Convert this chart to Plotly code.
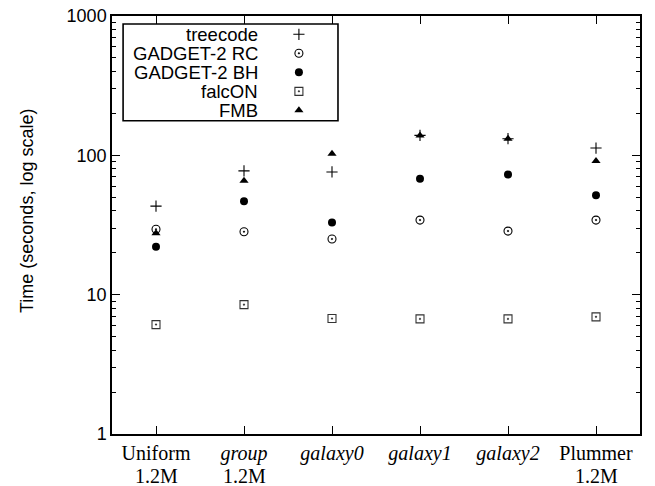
import plotly.graph_objects as go

categories = ["Uniform", "<i>group</i>", "<i>galaxy0</i>", "<i>galaxy1</i>", "<i>galaxy2</i>", "Plummer"]
sublabels = ["1.2M", "1.2M", "", "", "", "1.2M"]
treecode = [43.2, 77.3, 76.0, 139.0, 131.6, 112.8]
gadget_rc = [29.5, 28.3, 25.1, 34.3, 28.6, 34.3]
gadget_bh = [22.1, 46.9, 32.9, 67.8, 72.8, 51.8]
falcon = [6.1, 8.48, 6.74, 6.7, 6.7, 6.93]
fmb = [27.6, 65.6, 102.8, 139.0, 131.6, 91.1]
ytick_vals = [1, 10, 100, 1000]
ytick_text = ["1", "10", "100", "1000"]

series = [
    ("treecode", treecode, dict(symbol="cross-thin", size=8, color="black", line=dict(width=1.1, color="black"))),
    ("GADGET-2 RC", gadget_rc, dict(symbol="circle-open-dot", size=8, color="black", line=dict(width=1.1, color="black"))),
    ("GADGET-2 BH", gadget_bh, dict(symbol="circle", size=8, color="black", line=dict(width=0))),
    ("falcON", falcon, dict(symbol="square-open-dot", size=8, color="#333333", line=dict(width=1.1, color="#333333"))),
    ("FMB", fmb, dict(symbol="triangle-up", size=8, color="black", line=dict(width=0))),
]

SANS = "Liberation Sans, Arial"
SERIF = "Liberation Serif, Times New Roman"

fig = go.Figure()
xidx = list(range(len(categories)))
for name, vals, mk in series:
    fig.add_trace(go.Scatter(x=xidx, y=vals, mode="markers", name=name, marker=mk, showlegend=False))

# second line of the category labels
for xi, sub in zip(xidx, sublabels):
    if sub:
        fig.add_annotation(x=xi, y=-0.1005, xref="x", yref="paper", text=sub, showarrow=False,
                           xanchor="center", yanchor="middle", borderpad=0,
                           font=dict(family=SERIF, size=20, color="black"))

# y-axis title
fig.add_annotation(x=-0.161, y=0.5335, xref="paper", yref="paper", text="Time (seconds, log scale)",
                   textangle=-90, showarrow=False, xanchor="center", yanchor="middle",
                   font=dict(family=SANS, size=18, color="black"))

# manual legend (text right-aligned, symbol on the right) on an overlay axis
lx0, lx1, ly1 = 0.021, 0.428, 0.981
row_h = 0.0455
text_x = 0.278
sym_x = 0.354
fig.add_shape(type="rect", xref="paper", yref="paper", x0=lx0, x1=lx1, y0=ly1 - row_h * len(series) - 0.004, y1=ly1,
              line=dict(color="black", width=1.6), fillcolor="white", layer="below")
for i, (name, vals, mk) in enumerate(series):
    yc = ly1 - row_h * (i + 0.5) - 0.002
    fig.add_annotation(x=text_x, y=yc, xref="paper", yref="paper", text=name, showarrow=False,
                       xanchor="right", yanchor="middle", height=18, borderpad=0,
                       font=dict(family=SANS, size=18.5, color="black"))
    fig.add_trace(go.Scatter(x=[sym_x], y=[yc], xaxis="x2", yaxis="y2", mode="markers", marker=mk,
                             showlegend=False, hoverinfo="skip"))

fig.update_layout(
    width=655, height=486,
    margin=dict(l=112, r=15, t=16, b=52),
    paper_bgcolor="white", plot_bgcolor="white",
    showlegend=False,
    xaxis=dict(range=[-0.5, 5.5], tickmode="array", tickvals=xidx, ticktext=categories,
               ticks="inside", ticklen=8, tickwidth=1, tickcolor="black",
               showline=True, linecolor="black", linewidth=1.5, mirror="allticks",
               showgrid=False, zeroline=False, automargin=False, ticklabeloverflow="allow",
               tickfont=dict(family=SERIF, size=20, color="black")),
    yaxis=dict(type="log", range=[0, 3], tickmode="array", tickvals=ytick_vals, ticktext=ytick_text,
               ticks="inside", ticklen=8, tickwidth=1, tickcolor="black",
               showline=True, linecolor="black", linewidth=1.5, mirror="allticks",
               showgrid=False, zeroline=False, automargin=False, ticklabeloverflow="allow",
               minor=dict(ticks="inside", ticklen=4, tickwidth=1, tickcolor="black", showgrid=False, dtick="D1"),
               tickfont=dict(family=SANS, size=18, color="black")),
    xaxis2=dict(overlaying="x", range=[0, 1], visible=False, fixedrange=True),
    yaxis2=dict(overlaying="y", range=[0, 1], visible=False, fixedrange=True),
)

fig.write_html("out.html", config={"displayModeBar": False},
               post_script="document.body.style.margin='0';")
